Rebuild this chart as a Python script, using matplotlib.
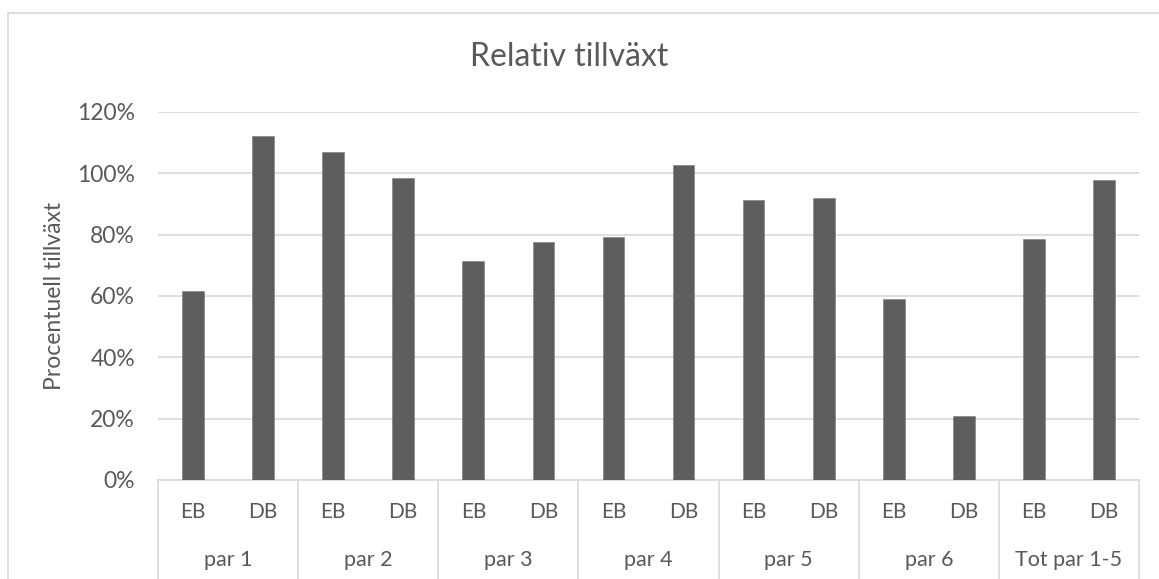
import matplotlib
matplotlib.use("Agg")
import matplotlib.pyplot as plt
from matplotlib.ticker import PercentFormatter
from matplotlib.lines import Line2D

# Relativ tillväxt per par (andel, 1.0 = 100 %)
groups = ["par 1", "par 2", "par 3", "par 4", "par 5", "par 6", "Tot par 1-5"]
subcats = ["EB", "DB"]
eb_values = [0.616, 1.068, 0.714, 0.794, 0.913, 0.591, 0.786]
db_values = [1.123, 0.986, 0.776, 1.028, 0.920, 0.210, 0.978]

BAR = "#5e5e5e"
GRID = "#d9d9d9"
TXT = "#595959"
FONT = ["Lato", "DejaVu Sans"]

plt.rcParams["font.family"] = FONT

W, H = 1159, 579
fig = plt.figure(figsize=(W / 100, H / 100), dpi=100)
fig.patch.set_facecolor("white")

# chart frame (left and top edges visible)
fig.add_artist(Line2D([8 / W, 8 / W], [0, 1 - 13 / H], color=GRID, lw=1.3))
fig.add_artist(Line2D([8 / W, 1], [1 - 13 / H, 1 - 13 / H], color=GRID, lw=1.3))

left, right, top, bottom = 158, 1139, 112, 480
ax = fig.add_axes([left / W, 1 - bottom / H, (right - left) / W, (bottom - top) / H])

values = []
labels = []
for eb, db in zip(eb_values, db_values):
    values += [eb, db]
    labels += subcats
xs = list(range(len(values)))

ax.bar(xs, values, width=0.31, color=BAR, edgecolor="#7a7a7a", linewidth=0.4, zorder=3)

ax.set_xlim(-0.5, len(values) - 0.5)
ax.set_ylim(0, 1.2)
ax.set_yticks([0, 0.2, 0.4, 0.6, 0.8, 1.0, 1.2])
ax.yaxis.set_major_formatter(PercentFormatter(1.0, decimals=0))
ax.grid(axis="y", color=GRID, lw=1.2, zorder=0)
for s in ["top", "right", "left"]:
    ax.spines[s].set_visible(False)
ax.spines["bottom"].set_color(GRID)
ax.spines["bottom"].set_linewidth(1.2)
ax.tick_params(axis="y", length=0, pad=16.5, labelsize=16.5, labelcolor=TXT)

ax.set_xticks(xs)
ax.set_xticklabels(labels)
ax.tick_params(axis="x", length=0, pad=16, labelsize=15, labelcolor=TXT)

# group labels and separators of the two-level category axis
trans = ax.get_xaxis_transform()
for i, g in enumerate(groups):
    ax.text(2 * i + 0.5, -0.217, g, transform=trans, ha="center", va="center",
            fontsize=15.5, color=TXT)
for k in range(len(groups) + 1):
    ax.add_line(Line2D([2 * k - 0.5, 2 * k - 0.5], [0, -0.3], transform=trans,
                       color=GRID, lw=1.2, clip_on=False))

ax.set_ylabel("Procentuell tillväxt", fontsize=16.5, color=TXT, labelpad=9)
fig.text(569 / W, 1 - 57 / H, "Relativ tillväxt", ha="center", va="center",
         fontsize=23, color=TXT)

fig.savefig("out.png", dpi=100)
